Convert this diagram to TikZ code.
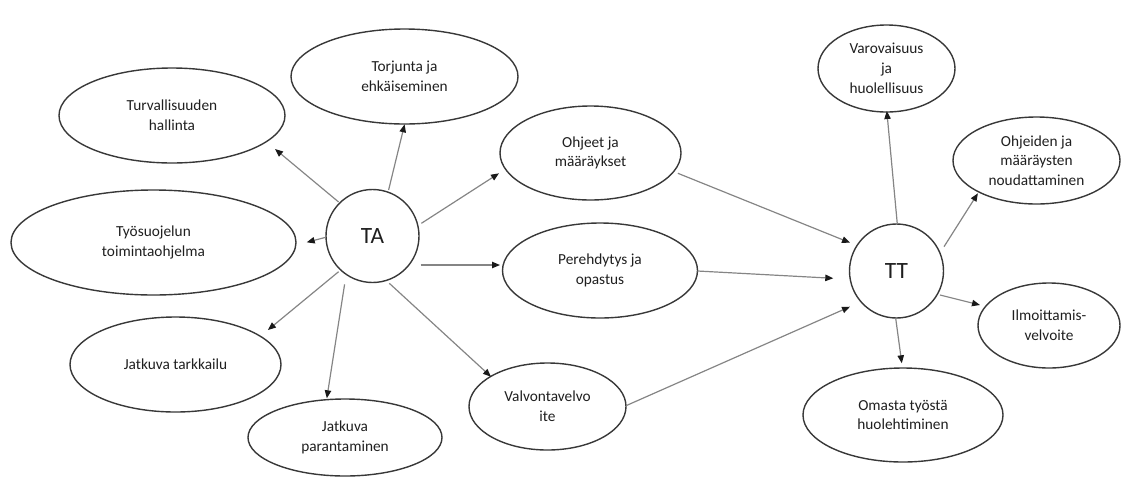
\documentclass[tikz,border=0pt]{standalone}
\usepackage{fontspec}
\setmainfont{Carlito}
\usetikzlibrary{shapes.geometric,arrows.meta,calc}
\begin{document}
\begin{tikzpicture}[x=0.75pt,y=-0.75pt,
  oval/.style={ellipse,draw=black!78,line width=1.05pt,inner sep=0pt,align=center,
    font=\fontsize{11.5}{14.8}\selectfont,text=black!88},
  hub/.style={circle,draw=black!78,line width=1.05pt,inner sep=0pt,
    font=\fontsize{17.5}{20}\selectfont,text=black!88},
  arr/.style={draw=black!48,line width=0.9pt,-{Triangle[length=6pt,width=4.8pt,color=black!90]}}]
\useasboundingbox (0,0) rectangle (1121,479);
% hubs
\node[hub,minimum size=69.75pt] (ta) at (372.5,236) {TA};
\node[hub,minimum size=70.5pt] (tt) at (896.5,271) {TT};
% TA side
\node[oval,minimum width=169.5pt,minimum height=71.25pt] (turv) at (172,115.5) {Turvallisuuden\\hallinta};
\node[oval,minimum width=170.25pt,minimum height=71.25pt] (torj) at (404.5,76.5) {Torjunta ja\\ehkäiseminen};
\node[oval,minimum width=213.75pt,minimum height=78.75pt] (tyos) at (153.5,242.5) {Työsuojelun\\toimintaohjelma};
\node[oval,minimum width=158.25pt,minimum height=71.25pt] (jtark) at (175.5,364.5) {Jatkuva tarkkailu};
\node[oval,minimum width=145.5pt,minimum height=57.75pt] (jpar) at (345,437.5) {Jatkuva\\parantaminen};
% middle
\node[oval,minimum width=135.75pt,minimum height=70.5pt] (ohj) at (590.5,153) {Ohjeet ja\\määräykset};
\node[oval,minimum width=146.25pt,minimum height=71.25pt] (pere) at (600,270.5) {Perehdytys ja\\opastus};
\node[oval,minimum width=117.75pt,minimum height=65.25pt] (valv) at (547.5,406.5) {Valvontavelvo\\ite};
% TT side
\node[oval,minimum width=102.75pt,minimum height=65.25pt] (varo) at (886.5,68.5) {Varovaisuus\\ja\\huolellisuus};
\node[oval,minimum width=125.25pt,minimum height=65.25pt] (noud) at (1036.5,160.5) {Ohjeiden ja\\määräysten\\noudattaminen};
\node[oval,minimum width=106.5pt,minimum height=63.75pt] (ilm) at (1049,325.5) {Ilmoittamis-\\velvoite};
\node[oval,minimum width=150pt,minimum height=70.5pt] (oma) at (903,415) {Omasta työstä\\huolehtiminen};
% arrows from TA
\draw[arr] ($(ta)+(-33.9,-34)$) -- ($(turv)+(103,33.5)$);
\draw[arr] ($(ta)+(16.1,-46)$) -- ($(torj)+(0.1,47.8)$);
\draw[arr] ($(ta)+(48.9,-12.7)$) -- ($(ohj)+(-91.5,20.3)$);
\draw[arr] ($(ta)+(-46.8,1.3)$) -- ($(tyos)+(153.2,-0.2)$);
\draw[arr] ($(ta)+(48.2,29)$) -- ($(pere)+(-100,-5.5)$);
\draw[arr] ($(ta)+(-33.9,35.7)$) -- ($(jtark)+(92.4,-34.5)$);
\draw[arr] ($(ta)+(-27.9,48.3)$) -- ($(jpar)+(-18.2,-39.2)$);
\draw[arr] ($(ta)+(16.8,47.3)$) -- ($(valv)+(-56.5,-29.8)$);
% arrows into TT
\draw[arr] ($(ohj)+(87.4,20.3)$) -- ($(tt)+(-46.5,-28.3)$);
\draw[arr] ($(pere)+(97.5,0.5)$) -- ($(tt)+(-63.2,7.3)$);
\draw[arr] ($(valv)+(78.5,-0.8)$) -- ($(tt)+(-46.5,35.7)$);
% arrows from TT
\draw[arr] ($(tt)+(0.8,-47)$) -- ($(varo)+(0.3,42.5)$);
\draw[arr] ($(tt)+(47.5,-24.3)$) -- ($(noud)+(-58.6,32.8)$);
\draw[arr] ($(tt)+(43.5,24)$) -- ($(ilm)+(-69,-20.5)$);
\draw[arr] ($(tt)+(-0.8,47.3)$) -- ($(oma)+(-1.2,-51.7)$);
\end{tikzpicture}
\end{document}
